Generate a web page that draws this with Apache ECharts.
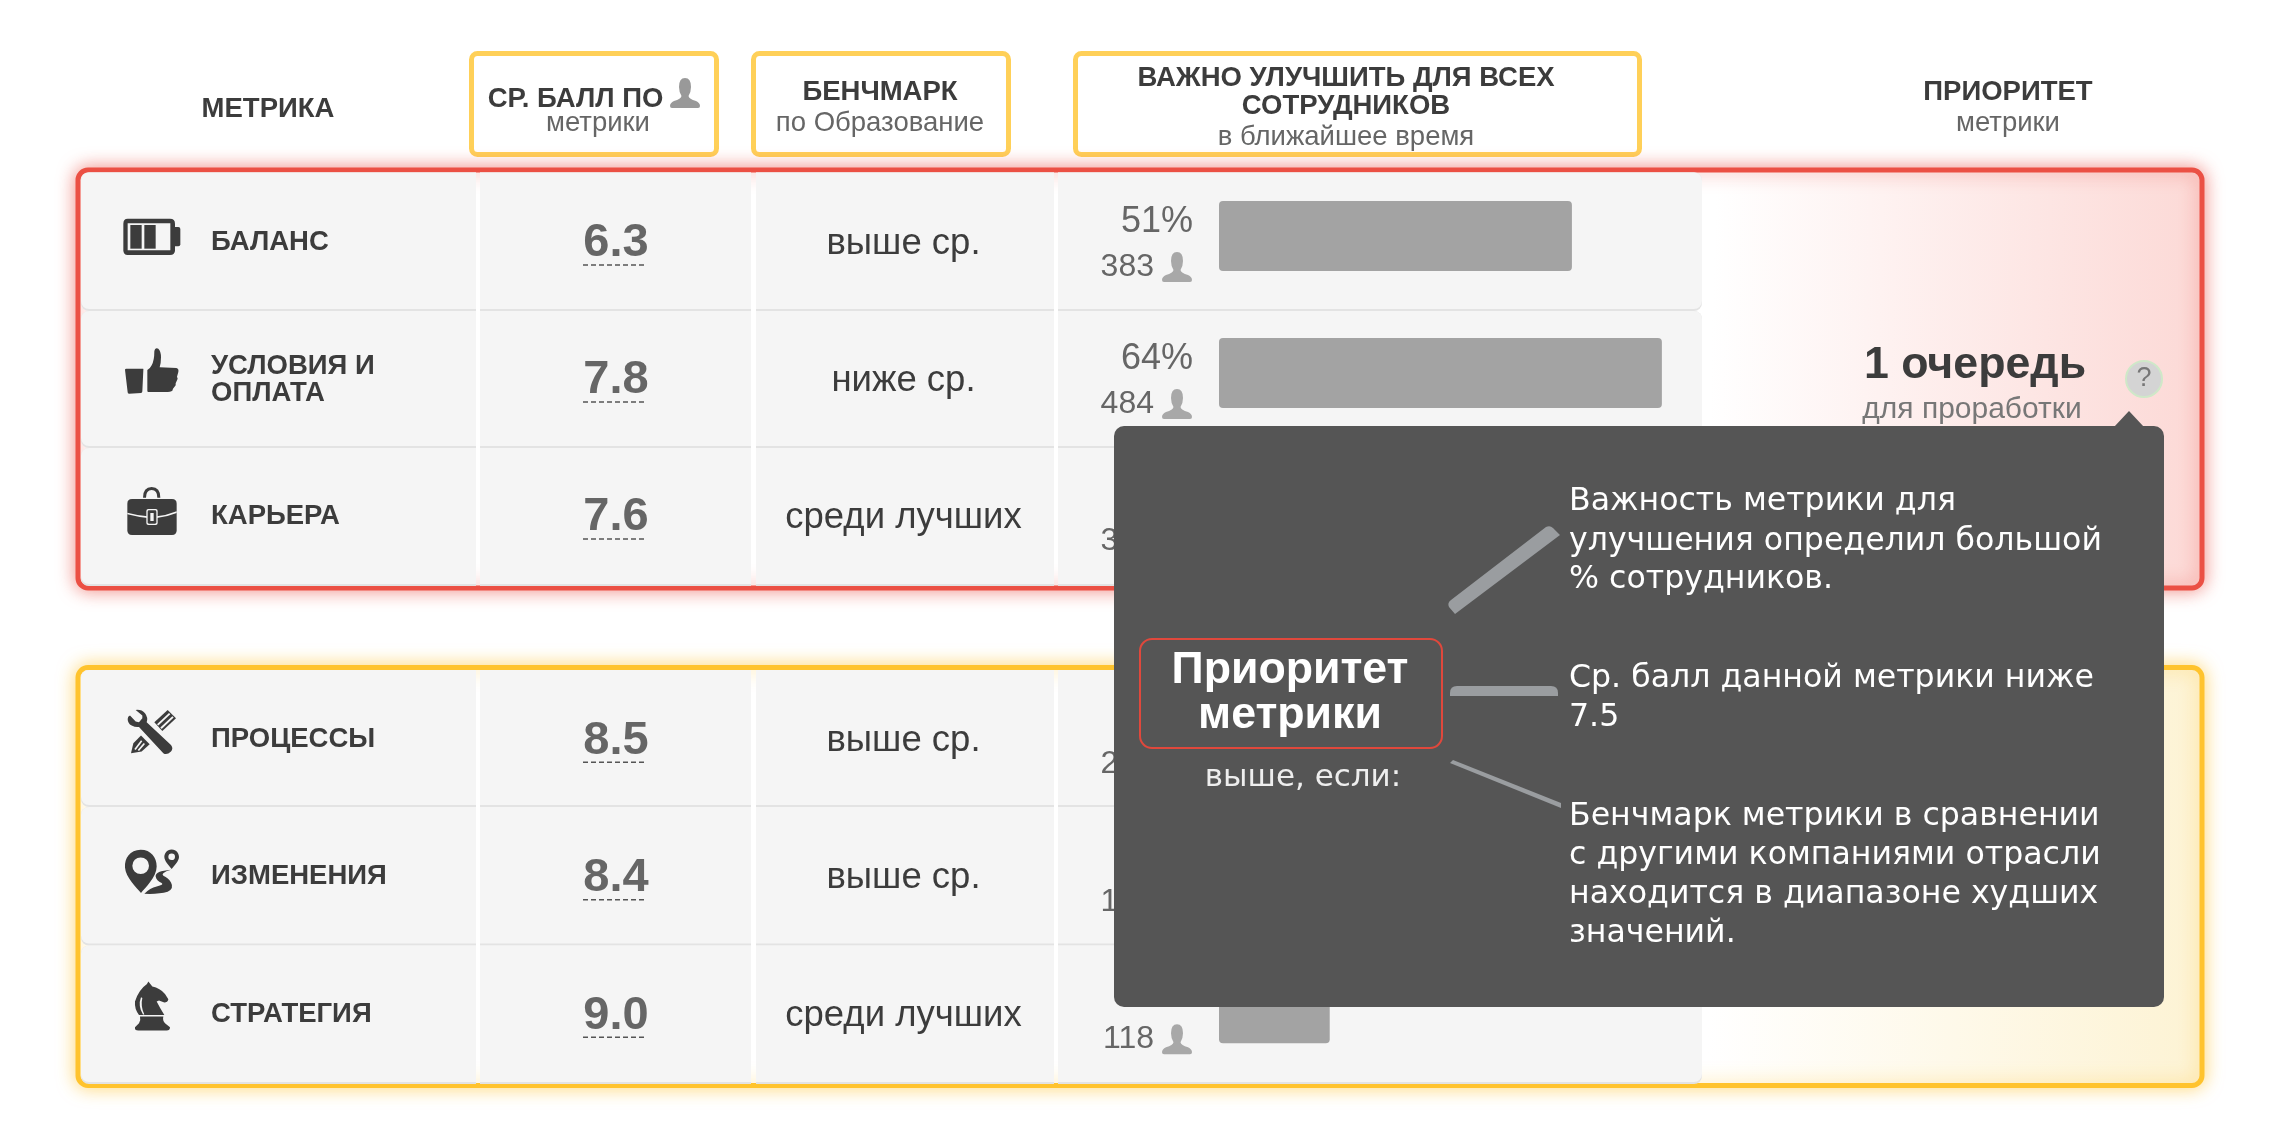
<![CDATA[<!DOCTYPE html>
<html><head><meta charset="utf-8">
<script src="https://cdn.jsdelivr.net/npm/echarts@6/dist/echarts.min.js"></script>
<style>html,body{margin:0;padding:0;background:#fff}#c{width:2270px;height:1146px}</style></head>
<body><div id="c"></div>
<script>
const metricsTop = ['БАЛАНС', 'УСЛОВИЯ И\nОПЛАТА', 'КАРЬЕРА'];
const metricsBottom = ['ПРОЦЕССЫ', 'ИЗМЕНЕНИЯ', 'СТРАТЕГИЯ'];
const scoresTop = ['6.3', '7.8', '7.6'];
const scoresBottom = ['8.5', '8.4', '9.0'];
const benchTop = ['выше ср.', 'ниже ср.', 'среди лучших'];
const benchBottom = ['выше ср.', 'выше ср.', 'среди лучших'];
const percentTop = [51, 64, 46];
const percentBottom = [32, 23, 16];
const countTop = [383, 484, 345];
const countBottom = [240, 172, 118];

const AR = 'Liberation Sans, Arial, sans-serif';
const TT = 'DejaVu Sans, sans-serif';
const DARK = '#3c3c3c', CELL = '#f5f5f5', GREY = '#666666', SEP = '#e3e3e3';

const PERSON = 'M15 0Q21 0 21 9Q21 14 18.5 18Q19 21 26 23Q30 25 30 28Q30 30 28 30H2Q0 30 0 28Q0 25 4 23Q11 21 11.5 18Q9 14 9 9Q9 0 15 0Z';
const ICONS = {
  battery: [
    ['M38 53H165Q180 53 180 68V148Q180 162 165 162H38Q25 162 25 148V68Q25 53 38 53Z', DARK],
    ['M180 78H190Q196 78 196 84V130Q196 136 190 136H180Z', DARK],
    ['M38 67H166V148H38Z', CELL],
    ['M46 72H80V143H46Z', DARK],
    ['M88 72H122V143H88Z', DARK]
  ],
  thumb: [
    ['M30 95Q30 92 34 92L84 92Q86 92 85 96L82 160Q82 165 78 165L42 167Q38 167 38 163Z', DARK],
    ['M97 96Q104 94 110 82Q118 68 118 40Q120 28 130 32Q138 40 138 58Q138 75 134 88L184 90Q192 92 190 102L186 116L188 122L182 136L182 142L174 152L172 158Q168 162 150 162L100 162Q97 162 97 158Z', DARK]
  ],
  case: [
    ['M84 68Q84 36 110 36Q136 36 136 68H127Q127 45 110 45Q93 45 93 68Z', DARK],
    ['M51 72H171Q185 72 185 86V166Q185 180 171 180H51Q37 180 37 166V86Q37 72 51 72Z', DARK],
    ['M37 113Q68 121 98 124V129Q68 126 37 118Z', CELL],
    ['M185 109Q155 121 125 124V129Q155 126 185 114Z', CELL],
    ['M100 102H122Q128 102 128 108V144Q128 150 122 150H100Q94 150 94 144V108Q94 102 100 102Z', CELL],
    ['M102 106H120Q124 106 124 110V142Q124 146 120 146H102Q98 146 98 142V110Q98 106 102 106Z', DARK],
    ['M106 114H116V138H106Z', CELL]
  ],
  tools: [
    ['M118 72L158 35L183 60L142 98Z', DARK],
    ['M126 78L162 44L166 48L130 82Z', CELL],
    ['M136 88L172 54L176 58L140 92Z', CELL],
    ['M48 165L55 135L78 112L104 138L80 160Z', DARK],
    ['M58 152L78 126L82 129L62 155Z', CELL],
    ['M68 155L86 134L90 137L72 158Z', CELL],
    ['M38 62Q38 75 50 82Q62 88 72 86L145 165Q155 172 168 160Q176 150 168 140L95 72Q100 58 90 45Q80 33 62 35L82 52L82 60L72 72L62 70L45 52Q38 55 38 62Z', DARK]
  ],
  pin: [
    ['M77 42C45 42 28 68 30 95C32 125 65 155 78 172C90 155 125 125 125 92C125 65 108 42 77 42Z', DARK],
    ['M77 65A25 25 0 1 0 77.01 115A25 25 0 1 0 77 65Z', CELL],
    ['M170 41C155 41 148 53 148 64C148 76 162 90 170 100C178 90 192 76 192 64C192 53 185 41 170 41Z', DARK],
    ['M170 53A10 10 0 1 0 170.01 73A10 10 0 1 0 170 53Z', CELL],
    ['M168 102Q120 106 122 122Q124 134 140 142Q148 148 125 152Q105 156 88 174Q130 176 158 168Q178 158 168 140Q160 126 145 120Q135 112 168 102Z', DARK]
  ],
  knight: [
    ['M100 25L112 40Q135 45 150 62L160 78Q158 88 148 88L132 82L125 85Q135 105 148 125L72 125Q58 108 60 85Q70 50 96 32Z', DARK],
    ['M78 72Q68 98 84 124L88 124Q76 98 82 74Z', CELL],
    ['M75 130H145Q142 142 150 150L165 162Q165 172 155 172H70Q58 172 60 162L72 150Q78 142 75 130Z', DARK]
  ]
};

const chart = echarts.init(document.getElementById('c'), null, {renderer: 'canvas'});
chart.setOption({
  animation: false,
  backgroundColor: '#ffffff',
  grid: [
    {left: 1219, width: 692, top: 167.5, height: 411},
    {left: 1219, width: 692, top: 664.5, height: 412.5}
  ],
  xAxis: [
    {type: 'value', gridIndex: 0, min: 0, max: 100, show: false},
    {type: 'value', gridIndex: 1, min: 0, max: 100, show: false}
  ],
  yAxis: [
    {type: 'category', gridIndex: 0, inverse: true, data: metricsTop, show: false},
    {type: 'category', gridIndex: 1, inverse: true, data: metricsBottom, show: false}
  ],
  series: [
    {type: 'bar', xAxisIndex: 0, yAxisIndex: 0, data: percentTop, barWidth: 70, silent: true, z: 5,
     itemStyle: {color: '#a3a3a3', borderRadius: 4}},
    {type: 'bar', xAxisIndex: 1, yAxisIndex: 1, data: percentBottom, barWidth: 70, silent: true, z: 5,
     itemStyle: {color: '#a3a3a3', borderRadius: 4}}
  ]
});

const els = [];
let shapeId = 0;
function txt(t, x, y, size, color, opts) {
  opts = opts || {};
  const dy = opts.dy === undefined ? 2 : opts.dy;
  els.push({type: 'text', x, y: y + dy, z: opts.z || 6, silent: true, style: {
    text: t, fill: color, align: opts.align || 'center', verticalAlign: 'middle',
    font: (opts.bold ? 'bold ' : '') + size + 'px ' + (opts.family || AR)
  }});
}
function rect(x, y, w, h, r, style, z) {
  els.push({type: 'rect', z: z, silent: true, shape: {x, y, width: w, height: h, r}, style});
}
function path(d, x, y, s, fill, z) {
  const name = 'svgShape' + (shapeId++);
  echarts.graphic.registerShape(name, echarts.graphic.extendPath(d, {}));
  els.push({type: name, x, y, scaleX: s, scaleY: s, z: z, silent: true, style: {fill}});
}
function icon(name, x, y) {
  ICONS[name].forEach(p => path(p[0], x, y, 1 / 3, p[1], 4));
}

// header boxes
[[469, 250], [751, 260], [1073, 569]].forEach(b =>
  rect(b[0] + 2.5, 53.5, b[1] - 5, 101, 6, {fill: '#fff', stroke: '#ffd058', lineWidth: 5}, 1));
txt('МЕТРИКА', 268, 107, 27.5, DARK, {bold: true});
txt('СР. БАЛЛ ПО', 575.5, 97, 27.5, DARK, {bold: true});
path(PERSON, 670, 78, 1, '#999999', 4);
txt('метрики', 598, 121, 27.5, GREY);
txt('БЕНЧМАРК', 880, 90, 27.5, DARK, {bold: true});
txt('по Образование', 880, 121, 27.5, GREY);
txt('ВАЖНО УЛУЧШИТЬ ДЛЯ ВСЕХ', 1346, 76, 27.5, DARK, {bold: true});
txt('СОТРУДНИКОВ', 1346, 104, 27.5, DARK, {bold: true});
txt('в ближайшее время', 1346, 135, 27.5, GREY);
txt('ПРИОРИТЕТ', 2008, 90, 27.5, DARK, {bold: true});
txt('метрики', 2008, 121, 27.5, GREY);

// blocks
function block(top, h, col, shadow, tint) {
  rect(78, top + 2.5, 2124, h - 5, 10, {
    fill: {type: 'linear', x: 0, y: 0, x2: 1, y2: 0.12, colorStops: [
      {offset: 0, color: '#ffffff'}, {offset: 0.77, color: '#ffffff'}, {offset: 1, color: tint}]},
    stroke: col, lineWidth: 5, shadowBlur: 18, shadowColor: shadow
  }, 1);
}
block(167.5, 423, '#eb5044', 'rgba(235,80,68,0.6)', '#fcd9d6');
block(665, 423, '#ffc32d', 'rgba(255,195,45,0.6)', '#fdf3d4');

const COLS = [[81, 395], [480, 271], [756, 298], [1058, 644]];
function rows(ys) {
  ys.forEach(r => {
    COLS.forEach((c, j) => {
      const rad = [j === 0 ? 8 : 0, j === 3 ? 8 : 0, j === 3 ? 8 : 0, j === 0 ? 8 : 0];
      rect(c[0], r[0], c[1], r[1] - r[0], rad, {fill: SEP}, 2);
      rect(c[0], r[0], c[1], r[1] - r[0] - 2, rad, {fill: CELL}, 3);
    });
  });
}
rows([[172.5, 311], [311, 448], [448, 586]]);
rows([[670, 807], [807, 945.5], [945.5, 1084]]);

const iconsTop = ['battery', 'thumb', 'case'], iconsBottom = ['tools', 'pin', 'knight'];
const yTop = i => chart.convertToPixel({yAxisIndex: 0}, i);
const yBot = i => chart.convertToPixel({yAxisIndex: 1}, i);
function fillRows(names, scores, bench, pcts, cnts, icons, yf) {
  names.forEach((n, i) => {
    const y = yf(i);
    icon(icons[i], 115, y - 35);
    const lines = n.split('\n');
    if (lines.length > 1) { txt(lines[0], 211, y - 9, 27.5, DARK, {bold: true, align: 'left'}); txt(lines[1], 211, y + 18.5, 27.5, DARK, {bold: true, align: 'left'}); }
    else txt(n, 211, y + 4, 27.5, DARK, {bold: true, align: 'left'});
    txt(scores[i], 616, y + 3, 47, GREY, {bold: true, dy: 4.5});
    els.push({type: 'line', z: 6, silent: true, shape: {x1: 583, y1: y + 29, x2: 647, y2: y + 29}, style: {stroke: '#555', lineWidth: 1.5, lineDash: [5, 3]}});
    txt(bench[i], 903.5, y + 6, 36.5, DARK, {dy: 1.5});
    txt(pcts[i] + '%', 1193, y - 17, 36, GREY, {align: 'right', dy: 3});
    txt(String(cnts[i]), 1154, y + 28, 32, GREY, {align: 'right', dy: 3});
    path(PERSON, 1162, y + 16, 1, '#a8a8a8', 6);
  });
}
fillRows(metricsTop, scoresTop, benchTop, percentTop, countTop, iconsTop, yTop);
fillRows(metricsBottom, scoresBottom, benchBottom, percentBottom, countBottom, iconsBottom, yBot);

// priority
txt('1 очередь', 1975, 364, 44.7, DARK, {bold: true, dy: 1.5});
txt('для проработки', 1972, 409, 30, '#777777', {dy: 1});
els.push({type: 'circle', z: 6, silent: true, shape: {cx: 2144, cy: 379, r: 18}, style: {fill: '#d4d4d4', stroke: '#cfe8c8', lineWidth: 2}});
txt('?', 2144, 379, 27, '#777777', {dy: 0});

// popup
const Z = 20;
rect(1114, 426, 1050, 581, 10, {fill: '#555555'}, Z);
els.push({type: 'polygon', z: Z, silent: true, shape: {points: [[2114, 427], [2129, 411], [2144, 427]]}, style: {fill: '#555555'}});
rect(1140, 639, 302, 109, 12, {fill: '#555555', stroke: '#e0483c', lineWidth: 2}, Z + 1);
txt('Приоритет', 1290, 670.5, 44.7, '#ffffff', {bold: true, z: Z + 2, dy: 0});
txt('метрики', 1290, 716, 44.7, '#ffffff', {bold: true, z: Z + 2, dy: 0});
txt('выше, если:', 1303, 778, 31, '#eeeeee', {z: Z + 2, family: TT, dy: 0});
path('M1546 527Q1550 525 1553 528L1560 535L1455 614L1449 607Q1447 603 1451 600Z', 0, 0, 1, '#9a9da0', Z + 1);
path('M1450 696V693Q1450 686 1457 686H1551Q1558 686 1558 693V696Z', 0, 0, 1, '#9a9da0', Z + 1);
els.push({type: 'polygon', z: Z + 1, silent: true, shape: {points: [[1450, 763], [1453, 760], [1561, 803], [1561, 808]]}, style: {fill: '#9a9da0'}});
[['Важность метрики для', 502], ['улучшения определил большой', 541.5], ['% сотрудников.', 580],
 ['Ср. балл данной метрики ниже', 679], ['7.5', 718],
 ['Бенчмарк метрики в сравнении', 817], ['с другими компаниями отрасли', 856], ['находится в диапазоне худших', 895], ['значений.', 934]
].forEach(l => txt(l[0], 1569, l[1], 31.6, '#ffffff', {align: 'left', z: Z + 2, family: TT, dy: 0}));

chart.setOption({graphic: {elements: els}});
</script></body></html>]]>
